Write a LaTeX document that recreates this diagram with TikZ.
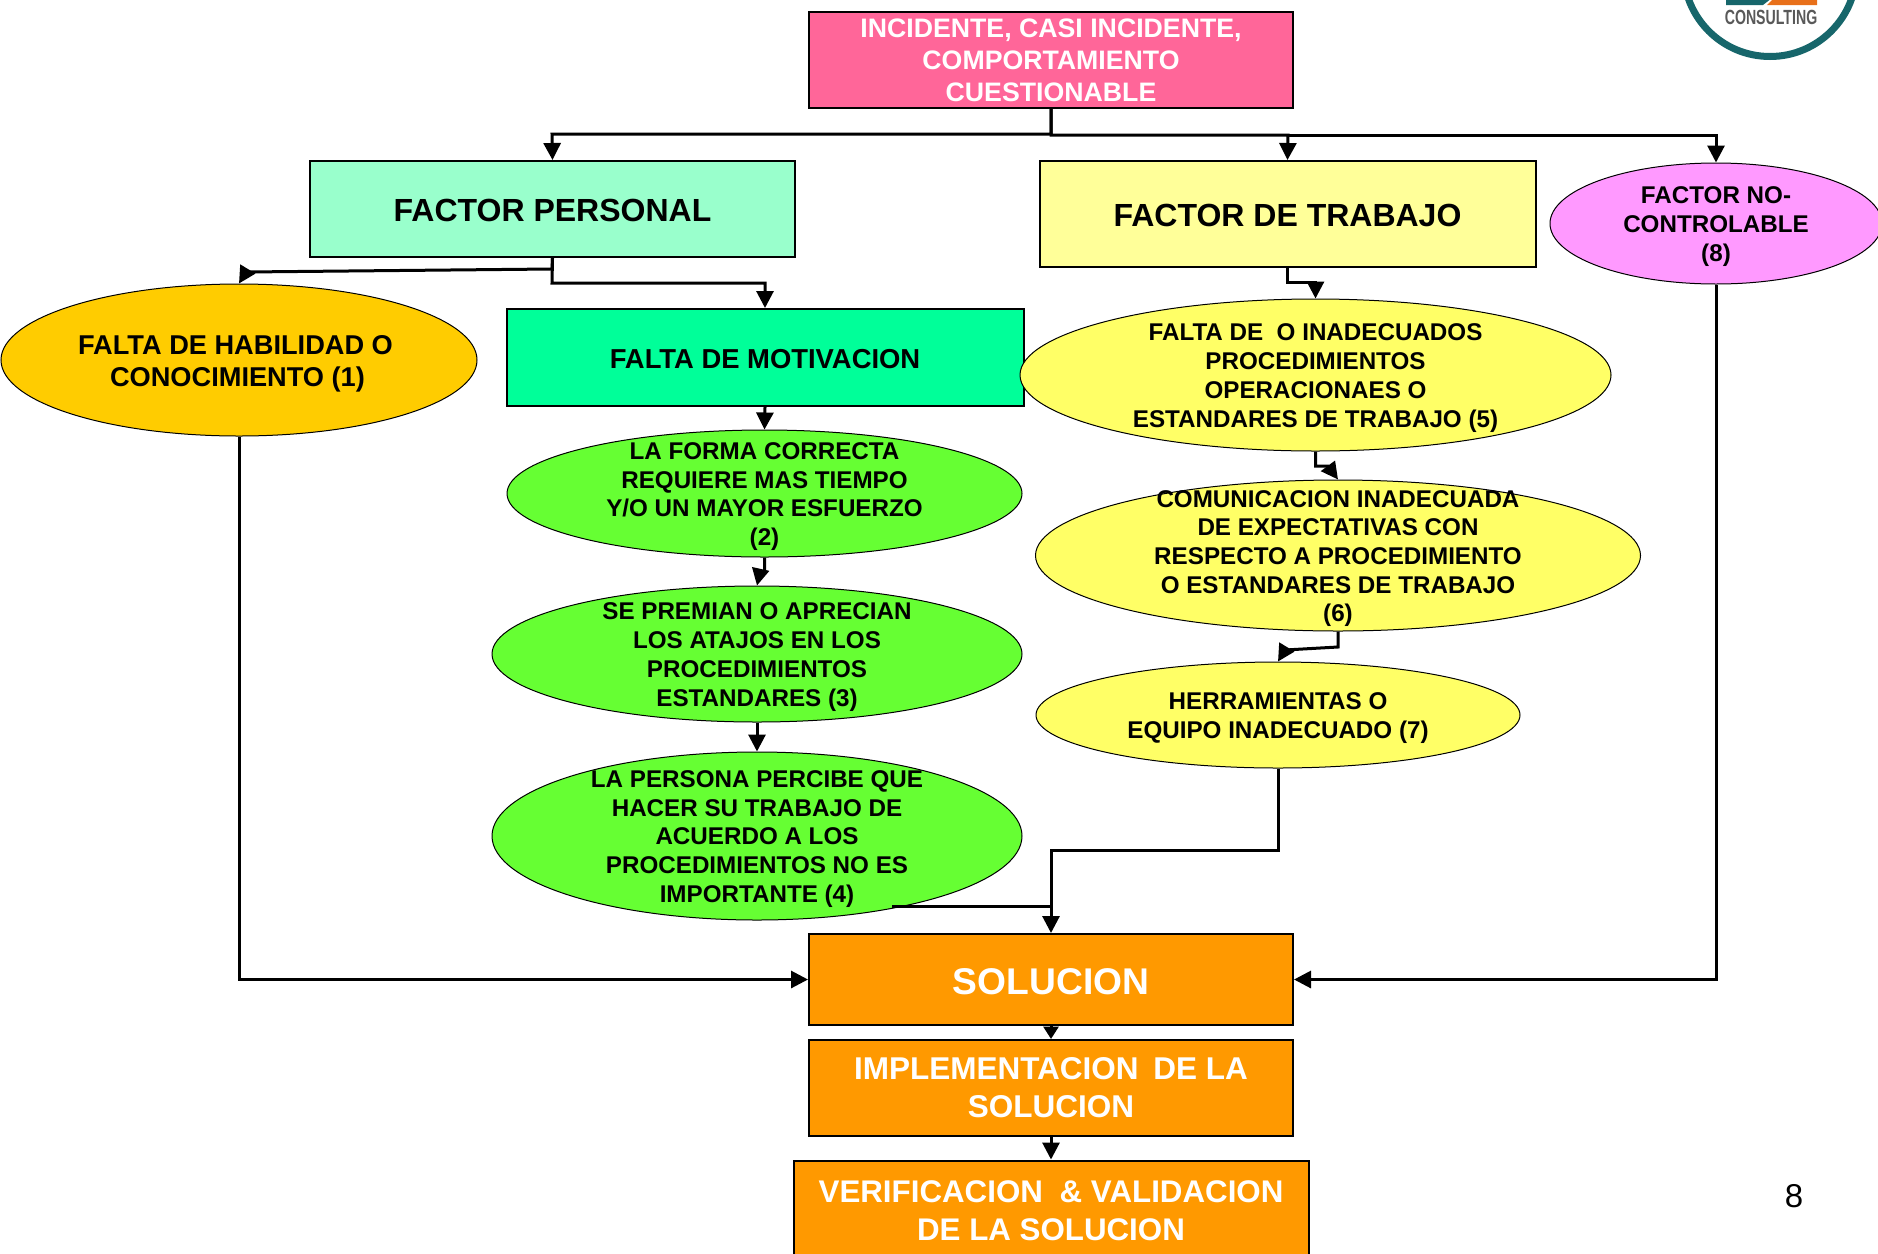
\documentclass[tikz,border=0pt]{standalone}
\usepackage{fontspec}
\setmainfont{Liberation Sans}
\usetikzlibrary{shapes.geometric,arrows.meta}
\definecolor{cpink}{HTML}{FF6699}
\definecolor{cmint}{HTML}{99FFCC}
\definecolor{cpale}{HTML}{FFFF99}
\definecolor{cmag}{HTML}{FF99FF}
\definecolor{cgold}{HTML}{FFCC00}
\definecolor{cspring}{HTML}{00FF99}
\definecolor{cgreen}{HTML}{66FF33}
\definecolor{cyell}{HTML}{FFFF66}
\definecolor{corange}{HTML}{FF9900}
\definecolor{cteal}{HTML}{17666B}
\definecolor{clogo}{HTML}{E8701A}
\newcommand{\fs}[2]{\fontsize{#1}{#2}\selectfont\bfseries}
\newcommand{\dn}{\rule{0pt}{0.95em}}
\tikzset{
  boxn/.style={draw=black,line width=2pt,rectangle,inner sep=0pt,align=center,text=black,
    execute at begin node={\rule{0pt}{0.8em}}},
  ell/.style={draw=black,line width=1pt,ellipse,inner sep=-60pt,align=center,text=black},
  conn/.style={draw=black,line width=3pt,line join=miter},
  arr/.style={conn,-{Triangle[length=17pt,width=17pt]}},
  arrs/.style={conn,-{Triangle[length=12.5pt,width=15pt]}},
}
\begin{document}
\begin{tikzpicture}[x=1pt,y=-1pt]
\useasboundingbox (0,0) rectangle (1878,1253);
\clip (0,0) rectangle (1878,1253);
\fill[white] (0,0) rectangle (1878,1253);
% logo
\fill[cteal] (1726,-2) -- (1772,-2) -- (1763,5) -- (1726,5) -- cycle;
\fill[clogo] (1774,-2) -- (1817,-2) -- (1817,5) -- (1767,5) -- cycle;
\draw[cteal,line width=7pt] (1770,-30) circle[radius=86.5pt];
\node[text=black!65,font=\fontsize{20.5}{22}\selectfont\bfseries,xscale=0.69,inner sep=0pt] (logotxt) at (1771,17) {CONSULTING};
% boxes
\node[boxn,fill=cpink,text=white,font=\fs{26.7}{32},minimum width=484pt,minimum height=96pt] (top) at (1051,60) {INCIDENTE, CASI INCIDENTE,\\COMPORTAMIENTO\\CUESTIONABLE};
\node[boxn,fill=cmint,font=\fs{32}{38},minimum width=485pt,minimum height=96pt] (fp) at (552.5,209) {FACTOR PERSONAL};
\node[boxn,fill=cpale,font=\fs{32}{38},minimum width=496pt,minimum height=106pt] (ft) at (1287.5,214) {FACTOR DE TRABAJO};
\node[ell,fill=cmag,font=\fs{24.2}{29},minimum width=332pt,minimum height=121pt] (e8) at (1716,223.5) {\dn FACTOR NO-\\CONTROLABLE\\(8)};
\node[ell,fill=cgold,font=\fs{27.2}{32},minimum width=476pt,minimum height=152pt] (e1) at (239,360) {\dn\hspace*{-7pt}FALTA DE HABILIDAD O\\\hspace*{-3pt}CONOCIMIENTO (1)};
\node[boxn,fill=cspring,font=\fs{27.4}{32},minimum width=517pt,minimum height=97pt,execute at begin node={}] (mot) at (765,357.5) {FALTA DE MOTIVACION};
\node[ell,fill=cgreen,font=\fs{24.2}{28.7},minimum width=515pt,minimum height=127pt] (e2) at (764.5,493.5) {\dn LA FORMA CORRECTA\\REQUIERE MAS TIEMPO\\Y/O UN MAYOR ESFUERZO\\(2)};
\node[ell,fill=cgreen,font=\fs{24.2}{28.7},minimum width=530pt,minimum height=136pt] (e3) at (757,654) {\dn SE PREMIAN O APRECIAN\\LOS ATAJOS EN LOS\\PROCEDIMIENTOS\\ESTANDARES (3)};
\node[ell,fill=cgreen,font=\fs{24.2}{28.7},minimum width=530pt,minimum height=168pt] (e4) at (757,836) {\dn LA PERSONA PERCIBE QUE\\HACER SU TRABAJO DE\\ACUERDO A LOS\\PROCEDIMIENTOS NO ES\\IMPORTANTE (4)};
\node[ell,fill=cyell,font=\fs{24.2}{28.7},minimum width=591pt,minimum height=152pt] (e5) at (1315.5,375) {\dn FALTA DE\ \ O INADECUADOS\\PROCEDIMIENTOS\\OPERACIONAES O\\ESTANDARES DE TRABAJO (5)};
\node[ell,fill=cyell,font=\fs{24.2}{28.7},minimum width=605pt,minimum height=151pt] (e6) at (1338,555.5) {\dn COMUNICACION INADECUADA\\DE EXPECTATIVAS CON\\RESPECTO A PROCEDIMIENTO\\O ESTANDARES DE TRABAJO\\(6)};
\node[ell,fill=cyell,font=\fs{24.2}{28.7},minimum width=484pt,minimum height=106pt] (e7) at (1278,715) {\dn HERRAMIENTAS O\\EQUIPO INADECUADO (7)};
\node[boxn,fill=corange,text=white,font=\fs{37.2}{44},minimum width=484pt,minimum height=91pt] (sol) at (1051,979.5) {SOLUCION};
\node[boxn,fill=corange,text=white,font=\fs{31.5}{38},minimum width=484pt,minimum height=96pt] (imp) at (1051,1088) {IMPLEMENTACION\hspace{6pt}\ DE LA\\SOLUCION};
\node[boxn,fill=corange,text=white,font=\fs{31.3}{38},minimum width=515pt,minimum height=101pt] (ver) at (1051,1211) {VERIFICACION\hspace{8pt}\ \&\ VALIDACION\\DE LA SOLUCION};
\node[inner sep=0pt,font=\fontsize{33}{38}\selectfont] (pg) at (1794,1196) {8};
% bend points
\coordinate (busl) at (552,134);
\coordinate (busc) at (1051,134);
\coordinate (busr) at (1288,135);
\coordinate (busf) at (1716,135);
\coordinate (a1) at (552,269);
\coordinate (a2) at (246,272);
\coordinate (a3) at (552,283);
\coordinate (a4) at (765,283);
\coordinate (b1) at (1287.5,282);
\coordinate (b2) at (1315.5,282);
\coordinate (c1) at (1315.5,466);
\coordinate (c2) at (1328,466);
\coordinate (d1) at (1338,647);
\coordinate (d2) at (1285,650);
\coordinate (f1) at (1278,850);
\coordinate (f2) at (1051,850);
\coordinate (g1) at (892,906);
\coordinate (g2) at (1051,906);
\coordinate (h1) at (764.5,572);
\coordinate (h2) at (760,572);
% connectors
\draw[arr] (top.south) -- (busc) -- (busl) -- (fp.north);
\draw[arr] (top.south) -- (busc |- busr) -- (busr) -- (ft.north);
\draw[arr] (busr) -- (busf) -- (e8.north);
\draw[arr] (fp.south) -- (a1) -- (a2) -- (e1.north);
\draw[arr] (fp.south) -- (a3) -- (a4) -- (mot.north);
\draw[arr] (ft.south) -- (b1) -- (b2) -- (e5.north);
\draw[arr] (e5.south) -- (c1) -- (c2) -- (e6.north);
\draw[arr] (e6.south) -- (d1) -- (d2) -- (e7.north);
\draw[arr] (mot.south) -- (e2.north);
\draw[arr] (e2.south) -- (h1) -- (h2) -- (e3.north);
\draw[arr] (e3.south) -- (e4.north);
\draw[arr] (e7.south) -- (f1) -- (f2) -- (sol.north);
\draw[conn] (g1) -- (g2);
\draw[arr] (e1.south) -- (e1.south |- sol.west) -- (sol.west);
\draw[arr] (e8.south) -- (e8.south |- sol.east) -- (sol.east);
\draw[arrs] (sol.south) -- (imp.north);
\draw[arr] (imp.south) -- (ver.north);
\end{tikzpicture}
\end{document}
